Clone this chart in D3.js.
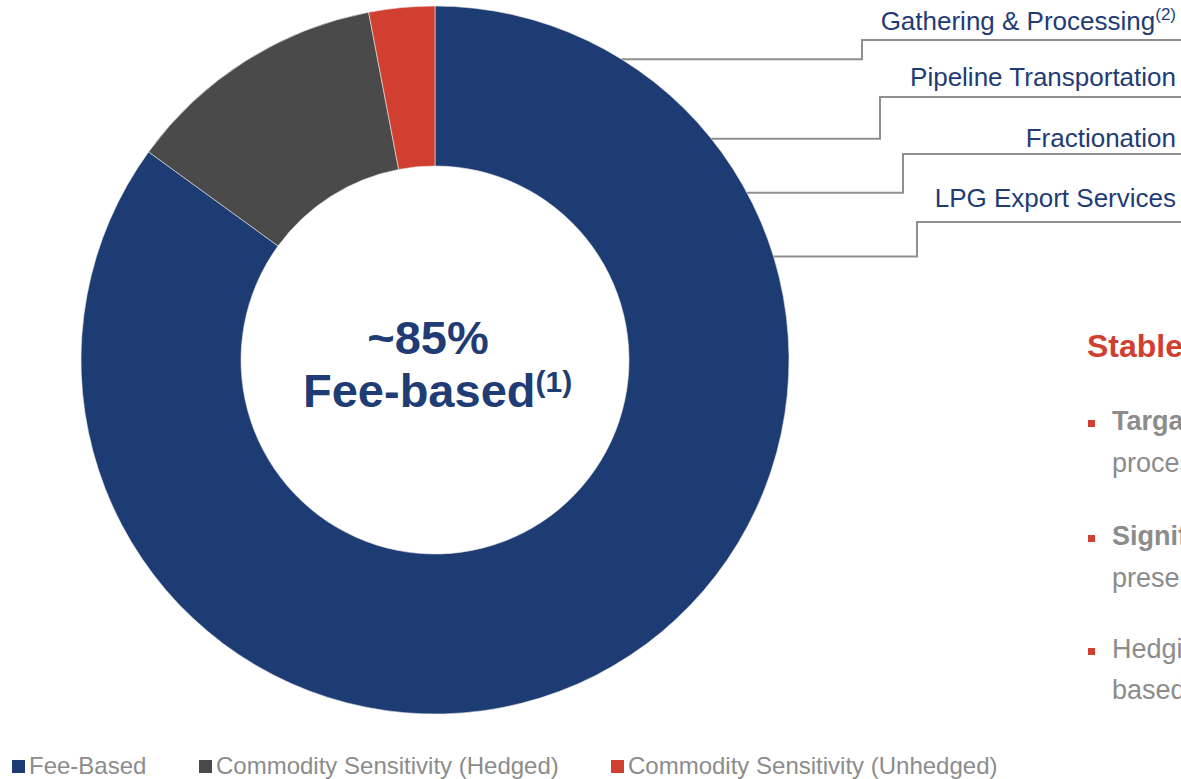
<!DOCTYPE html>
<html><head><meta charset="utf-8">
<script src="https://cdn.jsdelivr.net/npm/d3@7/dist/d3.min.js"></script>
<style>
html,body{margin:0;padding:0;background:#fff;overflow:hidden}
svg{display:block;font-family:"Liberation Sans",Arial,sans-serif}
</style></head><body>
<svg id="c" width="1181" height="779"></svg>
<script>
// ---- data ----
const categories = ["Fee-Based", "Commodity Sensitivity (Hedged)", "Commodity Sensitivity (Unhedged)"];
const shares = [85, 12, 3];
const colors = ["#1e3c74", "#4a4a4a", "#d13f31"];
const segmentLabels = ["Gathering & Processing", "Pipeline Transportation", "Fractionation", "LPG Export Services"];
const segmentSup = ["(2)", "", "", ""];
const segmentAngles = [31.8, 51.3, 61.8, 73.0]; // degrees clockwise from top where leader touches donut
const centerLines = ["~85%", "Fee-based"];
const sideTitle = "Stable Cash Flow Profile";
const bullets = [
  {bold: "Targa's fee-based margin", rest: "processing contracts"},
  {bold: "Significant fee-based", rest: "presence across the value chain"},
  {bold: "", rest: "Hedging program supports", rest2: "based margin"}
];

const svg = d3.select("#c");
const cx = 435, cy = 360, R = 354, r = 194;
const navy = "#1f3c75", grayText = "#8c8c8c", lineGray = "#8f8f8f";

const pie = d3.pie().sort(null).value(d => d)(shares);
const arc = d3.arc().innerRadius(r).outerRadius(R);
const g = svg.append("g").attr("transform", `translate(${cx},${cy})`);
g.selectAll("path").data(pie).join("path")
  .attr("d", arc).attr("fill", (d, i) => colors[i])
  .attr("stroke", "#e8e8e8").attr("stroke-width", 0.6);

// center text
svg.append("text").attr("text-anchor", "middle").attr("fill", navy)
  .attr("font-weight", "bold").attr("x", 428).attr("y", 354).attr("font-size", 47).text(centerLines[0]);
const t2 = svg.append("text").attr("fill", navy).attr("font-weight", "bold").attr("font-size", 47)
  .attr("x", 303).attr("y", 407);
t2.append("tspan").text(centerLines[1]);
t2.append("tspan").attr("font-size", 30).attr("dy", -15).text("(1)");

// leader lines and labels
const rowY = [40, 97, 154, 222];
const kneeX = [862, 880, 903, 917];
const labelBase = [30, 86, 147, 207];
segmentLabels.forEach((lab, i) => {
  const a = segmentAngles[i] * Math.PI / 180;
  const px = cx + R * Math.sin(a), py = cy - R * Math.cos(a);
  svg.append("path")
    .attr("d", `M${px},${py}H${kneeX[i]}V${rowY[i]}H1181`)
    .attr("fill", "none").attr("stroke", lineGray).attr("stroke-width", 2);
  const t = svg.append("text").attr("text-anchor", "end").attr("x", 1176).attr("y", labelBase[i])
    .attr("fill", navy).attr("font-size", 26);
  t.append("tspan").text(lab);
  if (segmentSup[i]) t.append("tspan").attr("font-size", 17).attr("dy", -10).text(segmentSup[i]);
});

// side text (clipped by window edge, as in the reference)
svg.append("text").attr("x", 1087).attr("y", 357).attr("fill", "#d13f31")
  .attr("font-weight", "bold").attr("font-size", 32).text(sideTitle);
const bY = [430, 545, 658];
bullets.forEach((b, i) => {
  svg.append("rect").attr("x", 1088).attr("y", bY[i] - 10).attr("width", 7).attr("height", 7).attr("fill", "#d13f31");
  const t = svg.append("text").attr("x", 1112).attr("y", bY[i]).attr("fill", grayText).attr("font-size", 27);
  if (b.bold) {
    t.append("tspan").attr("font-weight", "bold").text(b.bold);
    svg.append("text").attr("x", 1112).attr("y", bY[i] + 42).attr("fill", grayText).attr("font-size", 27).text(b.rest);
  } else {
    t.text(b.rest);
    svg.append("text").attr("x", 1112).attr("y", bY[i] + 41).attr("fill", grayText).attr("font-size", 27).text(b.rest2);
  }
});

// legend
const legX = [12, 199, 611];
categories.forEach((c, i) => {
  svg.append("rect").attr("x", legX[i]).attr("y", 760).attr("width", 13).attr("height", 13).attr("fill", colors[i]);
  svg.append("text").attr("x", legX[i] + 17).attr("y", 774).attr("fill", grayText).attr("font-size", 24).text(c);
});
</script></body></html>
